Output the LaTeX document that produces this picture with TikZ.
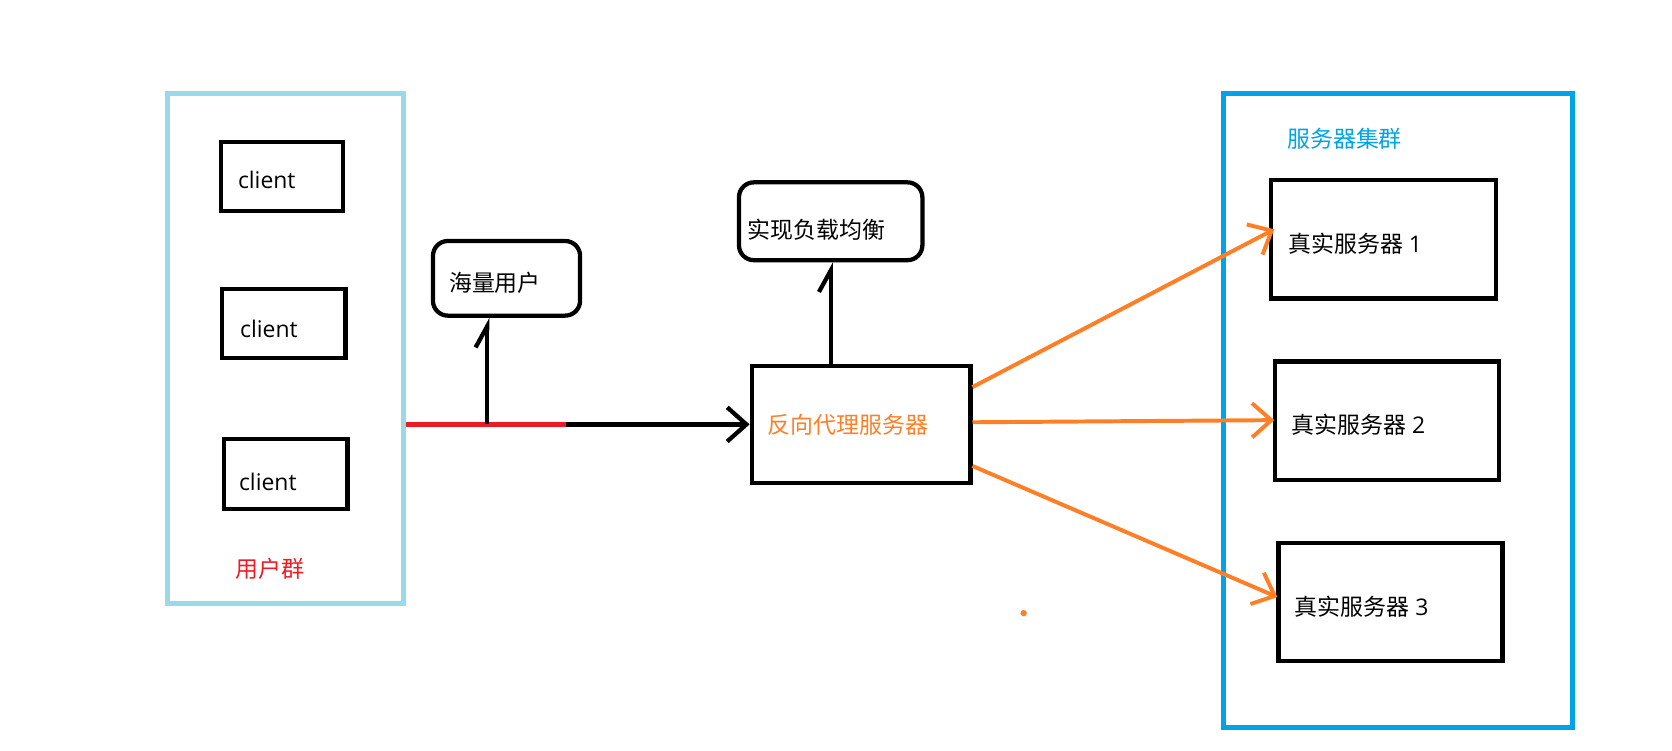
\documentclass[tikz,border=0pt]{standalone}
\usepackage{fontspec}
\setmainfont{Open Sans}
\newfontfamily\cjk{Noto Sans CJK SC}
\usetikzlibrary{arrows.meta}
\definecolor{paintred}{RGB}{237,28,36}
\definecolor{paintorange}{RGB}{255,127,39}
\definecolor{paintblue}{RGB}{0,162,232}
\definecolor{paintsky}{RGB}{153,217,234}

\begin{document}
\begin{tikzpicture}[
  x=1pt,y=-1pt,
  font=\fontsize{21.5}{26}\selectfont,
  >={Straight Barb[length=18pt,width=32pt]},
  group/.style={draw,line width=4.7pt,inner sep=0pt},
  box/.style={draw,line width=4pt,inner sep=0pt},
  tag/.style={box,rounded corners=14pt},
  txt/.style={anchor=west,inner sep=0pt},
  link/.style={line width=4pt},
  olink/.style={line width=3.7pt,paintorange,->},
  half/.style={-{Straight Barb[harpoon,length=20pt,width=22pt,line width=4pt]}},
]
\useasboundingbox (0,0) rectangle (1568,704);
% ---------- user group ----------
\node[group,draw=paintsky,minimum width=221pt,minimum height=478pt] (users) at (267.5,327) {};
\node[box,minimum width=115pt,minimum height=65pt] (c1) at (264.5,165.5) {};
\node[box,minimum width=116pt,minimum height=65pt] (c2) at (266,303.5) {};
\node[box,minimum width=116pt,minimum height=65pt] (c3) at (268,444.5) {};
\node[txt] (c1t) at (223,169) {client};
\node[txt] (c2t) at (225,308) {client};
\node[txt] (c3t) at (224,452) {client};
\node[txt,text=paintred] (userst) at (221,533) {\cjk 用户群};
% ---------- notes ----------
\node[tag,minimum width=138pt,minimum height=70pt] (massive) at (475,261) {};
\node[txt] (massivet) at (421,265) {\cjk 海量用户};
\node[tag,minimum width=172pt,minimum height=73pt] (balance) at (779,207.5) {};
\node[txt] (balancet) at (701,215) {\cjk 实现负载均衡};
% ---------- reverse proxy ----------
\node[box,minimum width=205pt,minimum height=110pt] (proxy) at (807.5,398) {};
\node[txt,text=paintorange] (proxyt) at (720,398) {\cjk 反向代理服务器};
% ---------- server cluster ----------
\node[group,draw=paintblue,minimum width=328pt,minimum height=594pt] (cluster) at (1311,385) {};
\node[txt,text=paintblue] (clustert) at (1207,130) {\cjk 服务器集群};
\node[box,minimum width=211pt,minimum height=111pt] (s1) at (1297.5,224.5) {};
\node[box,minimum width=210pt,minimum height=111pt] (s2) at (1301,394.5) {};
\node[box,minimum width=210pt,minimum height=111pt] (s3) at (1304,564.5) {};
\node[txt] (s1t) at (1208,229) {{\cjk 真实服务器} 1};
\node[txt] (s2t) at (1211,398) {{\cjk 真实服务器} 2};
\node[txt] (s3t) at (1214,569) {{\cjk 真实服务器} 3};
% =================== edges ===================
\coordinate (branch) at (457,398);
\coordinate (split) at (531,398);
\draw[link,paintred] (users.east |- split) -- (split);
\draw[link,->] (split) -- (proxy.west);
\draw[link,half] (branch) -- (branch |- massive.south);
\draw[link,half] (proxy.north -| balance.south) -- (balance.south);
\draw[olink] ([yshift=35pt]proxy.east) -- ([xshift=5pt,yshift=9.5pt]s1.west);
\draw[olink] ([yshift=2pt]proxy.east) -- ([xshift=1pt,yshift=0.5pt]s2.west);
\draw[olink] ([yshift=-39pt]proxy.east) -- ([xshift=1pt,yshift=4.5pt]s3.west);
\fill[paintorange] (960,575) circle (3pt);
\end{tikzpicture}
\end{document}
